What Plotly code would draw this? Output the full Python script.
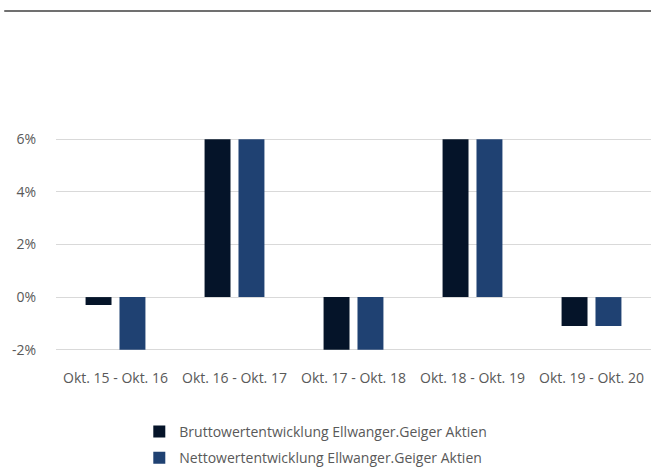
import plotly.graph_objects as go

categories = ["Okt. 15 - Okt. 16", "Okt. 16 - Okt. 17", "Okt. 17 - Okt. 18",
              "Okt. 18 - Okt. 19", "Okt. 19 - Okt. 20"]
brutto = [-0.3, 6.0, -2.0, 6.0, -1.1]
netto = [-2.0, 6.0, -2.0, 6.0, -1.1]
series_names = ["Bruttowertentwicklung Ellwanger.Geiger Aktien",
                "Nettowertentwicklung Ellwanger.Geiger Aktien"]
tick_vals = [-2, 0, 2, 4, 6]
tick_text = ["-2%", "0%", "2%", "4%", "6%"]

FONT = "Open Sans"
GRAY = "#595959"

fig = go.Figure()
fig.add_trace(go.Bar(x=categories, y=brutto, name=series_names[0],
                     marker=dict(color="#051429", line=dict(width=0)),
                     legendgroup="a"))
fig.add_trace(go.Bar(x=categories, y=netto, name=series_names[1],
                     marker=dict(color="#1f4172", line=dict(width=0)),
                     legendgroup="b"))

fig.update_layout(
    width=651, height=467,
    margin=dict(l=56, r=0, t=138, b=116, autoexpand=False),
    paper_bgcolor="white", plot_bgcolor="white",
    barmode="group", bargap=0.43, bargroupgap=0.235,
    font=dict(family=FONT, size=14, color=GRAY),
    showlegend=True,
    legend=dict(orientation="v", x=0.14, xanchor="left", y=-0.305, yanchor="top",
                traceorder="grouped", tracegroupgap=5,
                font=dict(family=FONT, size=14, color=GRAY),
                bgcolor="rgba(0,0,0,0)"),
    xaxis=dict(showgrid=False, showline=False, zeroline=False, ticks="",
               ticklabelstandoff=17,
               tickfont=dict(family=FONT, size=14, color=GRAY)),
    yaxis=dict(range=[-2.05, 6.05], tickvals=tick_vals, ticktext=tick_text,
               showgrid=True, gridcolor="#d9d9d9", gridwidth=1,
               zeroline=False, showline=False, ticks="", ticklabelstandoff=19,
               tickfont=dict(family=FONT, size=14, color=GRAY)),
    shapes=[dict(type="line", xref="paper", yref="paper",
                 x0=-0.087, x1=1.0, y0=(467 - 11 - 116) / 213, y1=(467 - 11 - 116) / 213,
                 line=dict(color="#404040", width=1.5))],
)

fig.write_html("out.html", config={"displayModeBar": False},
               post_script="document.body.style.margin='0px';document.body.style.overflow='hidden';")
